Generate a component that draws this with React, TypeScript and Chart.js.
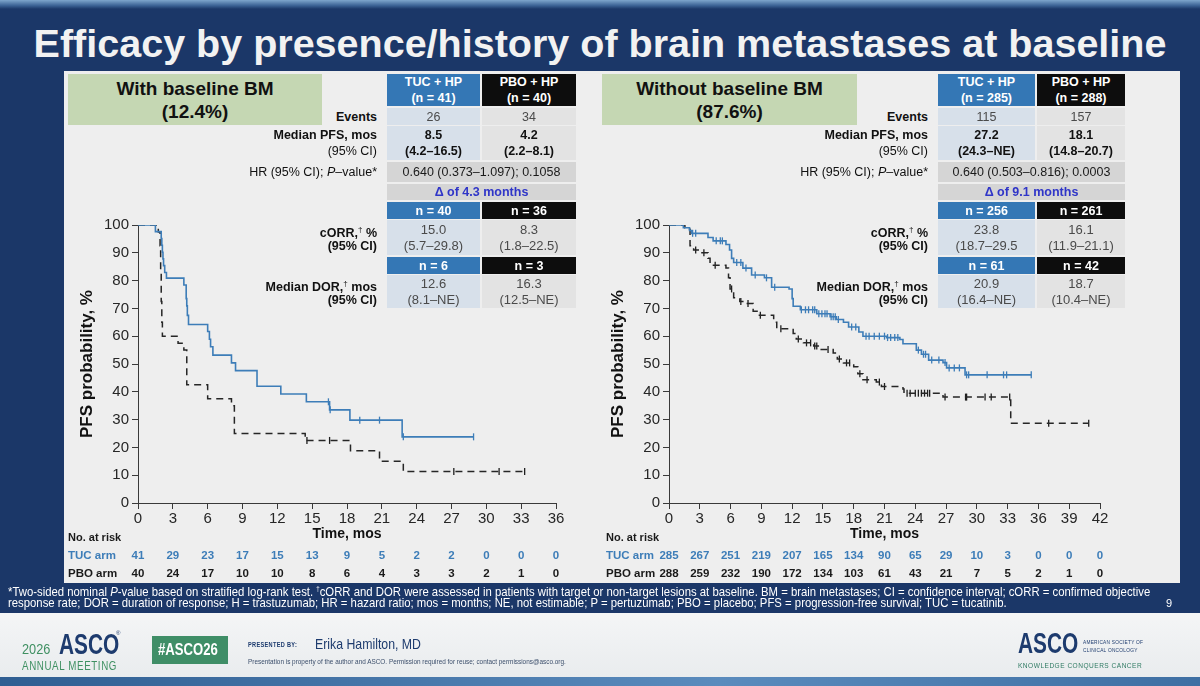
import React, { useEffect, useLayoutEffect, useRef } from "react";
import { Chart, registerables } from "chart.js";

Chart.register(...registerables);

const SANS = "'Liberation Sans', Arial, Helvetica, sans-serif";
const NARROW = "'Liberation Sans Narrow', 'Arial Narrow', 'Liberation Sans', sans-serif";

const NAVY = "#1b3768";
const PANEL = "#eeeeee";
const TUC_BLUE = "#3d7db8";
const HEAD_BLUE = "#3477b5";
const CELL_BLUE = "#d7e0ea";
const CELL_GRAY = "#e3e3e3";
const MERGED_GRAY = "#d5d5d5";
const GREEN_BOX = "#c5d7b3";

// ---------- Slide text ----------
const slideTitle = "Efficacy by presence/history of brain metastases at baseline";
const groupNames = ["With baseline BM", "Without baseline BM"];
const groupShares = ["(12.4%)", "(87.6%)"];
const tucN = ["41", "285"];
const pboN = ["40", "288"];
const events = [["26", "34"], ["115", "157"]];
const medianPfs = [["8.5", "4.2"], ["27.2", "18.1"]];
const medianPfsCi = [["(4.2–16.5)", "(2.2–8.1)"], ["(24.3–NE)", "(14.8–20.7)"]];
const hrValues = ["0.640 (0.373–1.097); 0.1058", "0.640 (0.503–0.816); 0.0003"];
const deltaMonths = ["Δ of 4.3 months", "Δ of 9.1 months"];
const orrN = [["40", "36"], ["256", "261"]];
const orrValues = [["15.0", "8.3"], ["23.8", "16.1"]];
const orrCi = [["(5.7–29.8)", "(1.8–22.5)"], ["(18.7–29.5", "(11.9–21.1)"]];
const dorN = [["6", "3"], ["61", "42"]];
const dorValues = [["12.6", "16.3"], ["20.9", "18.7"]];
const dorCi = [["(8.1–NE)", "(12.5–NE)"], ["(16.4–NE)", "(10.4–NE)"]];

const footnoteLines = [
  "*Two-sided nominal P-value based on stratified log-rank test. †cORR and DOR were assessed in patients with target or non-target lesions at baseline. BM = brain metastases; CI = confidence interval; cORR = confirmed objective",
  "response rate; DOR = duration of response; H = trastuzumab; HR = hazard ratio; mos = months;  NE, not estimable; P = pertuzumab; PBO = placebo; PFS = progression-free survival; TUC = tucatinib.",
];

// ---------- With baseline BM: Kaplan–Meier steps (months, PFS %) ----------
const bmTucTimes = [0, 1.5, 2.0, 2.05, 2.1, 2.15, 2.2, 2.3, 2.45, 3.95, 4.15, 4.2, 4.25, 4.35, 6.0, 6.15, 6.25, 6.45, 8.05, 8.4, 10.25, 12.3, 14.5, 16.5, 18.25, 22.75, 28.9];
const bmTucPfs = [100, 97.6, 95.1, 92.7, 90.2, 87.8, 85.4, 82.9, 80.9, 78.4, 73.5, 70.9, 67.5, 64.2, 61.7, 58.9, 56.2, 53.2, 50.4, 47.6, 42.0, 39.2, 36.4, 33.5, 29.8, 23.8, 23.8];
const bmTucCensored = [16.4, 16.55, 19.1, 20.8, 22.85, 28.9];

const bmPboTimes = [0, 1.75, 1.9, 1.95, 2.0, 2.05, 2.1, 3.45, 3.95, 4.2, 6.0, 8.05, 8.3, 14.4, 18.3, 20.8, 22.85, 33.3];
const bmPboPfs = [100, 97.5, 92.5, 82.5, 72.5, 65, 60, 57.5, 55, 42.5, 37.5, 35, 25, 22.5, 18.8, 15, 11.3, 11.3];
const bmPboCensored = [14.55, 16.5, 27.2, 31.1, 33.3];

// ---------- Without baseline BM ----------
const noBmTucTimes = [0, 1.4, 2.0, 2.2, 3.8, 4.3, 5.55, 5.9, 6.1, 6.3, 7.2, 8.05, 9.3, 10.0, 11.7, 12.0, 12.1, 12.8, 14.4, 15.7, 16.3, 17.0, 17.5, 18.5, 18.9, 21.2, 22.5, 22.8, 24.1, 24.6, 25.3, 26.7, 27.05, 28.85, 35.3];
const noBmTucPfs = [100, 99, 98, 97, 95.5, 94.3, 93, 91, 88, 86.5, 84.5, 82, 81, 77.6, 77, 73.5, 70.8, 69.5, 68.1, 67, 66, 65, 63.3, 61.5, 60, 59.5, 58.8, 57.3, 55, 53.5, 51.4, 50.5, 48.6, 46.1, 46.1];
const noBmTucCensored = [2.3, 2.6, 4.6, 5.0, 5.2, 6.6, 7.0, 7.5, 8.4, 9.5, 10.3, 12.9, 13.3, 13.6, 14.0, 14.2, 14.6, 14.9, 15.2, 15.4, 15.8, 16.0, 16.2, 16.5, 17.8, 18.2, 19.2, 19.5, 20.0, 20.5, 21.0, 21.3, 21.6, 22.0, 22.3, 24.3, 24.8, 25.0, 25.6, 26.3, 26.9, 27.3, 27.8, 28.3, 29.0, 29.2, 31.0, 32.6, 32.9, 35.3];

const noBmPboTimes = [0, 1.55, 1.9, 2.05, 2.4, 3.0, 3.8, 4.0, 5.55, 5.8, 5.95, 6.3, 6.9, 7.4, 8.2, 8.7, 10.2, 10.5, 12.1, 12.4, 13.1, 14.1, 14.55, 16.0, 16.4, 17.0, 18.0, 18.4, 18.9, 20.2, 20.7, 22.8, 22.9, 26.7, 33.3, 40.9];
const noBmPboPfs = [100, 99, 98.5, 92.5, 91, 90, 88, 85.5, 84.5, 81, 77, 73.8, 72.5, 71.8, 69, 67.5, 65, 62.7, 61, 59, 57.6, 56.5, 55.2, 54, 51.8, 50.4, 49, 46.5, 44.3, 43.5, 41.9, 41, 39.5, 38.1, 28.7, 28.7];
const noBmPboCensored = [2.6, 3.4, 4.5, 6.1, 7.0, 7.7, 8.9, 10.9, 12.6, 13.4, 13.8, 14.2, 14.4, 15.5, 16.6, 17.3, 17.6, 18.6, 19.3, 20.5, 21.0, 23.2, 23.5, 24.0, 24.3, 24.6, 24.9, 25.2, 25.4, 26.9, 28.9, 29.0, 30.8, 31.4, 33.2, 37.0, 40.9];

// ---------- Numbers at risk ----------
const bmRiskTimes = [0, 3, 6, 9, 12, 15, 18, 21, 24, 27, 30, 33, 36];
const bmRiskTuc = [41, 29, 23, 17, 15, 13, 9, 5, 2, 2, 0, 0, 0];
const bmRiskPbo = [40, 24, 17, 10, 10, 8, 6, 4, 3, 3, 2, 1, 0];
const noBmRiskTimes = [0, 3, 6, 9, 12, 15, 18, 21, 24, 27, 30, 33, 36, 39, 42];
const noBmRiskTuc = [285, 267, 251, 219, 207, 165, 134, 90, 65, 29, 10, 3, 0, 0, 0];
const noBmRiskPbo = [288, 259, 232, 190, 172, 134, 103, 61, 43, 21, 7, 5, 2, 1, 0];

type Pt = { x: number; y: number };

function stepPoints(times: number[], pfs: number[]): Pt[] {
  return times.map((t, i) => ({ x: t, y: pfs[i] }));
}

// PFS level of a step curve at time t (last step at or before t)
function levelAt(times: number[], pfs: number[], t: number): number {
  let v = pfs[0];
  for (let i = 0; i < times.length; i++) if (times[i] <= t) v = pfs[i];
  return v;
}

function censorPoints(times: number[], pfs: number[], cens: number[]): Pt[] {
  return cens.map((t) => ({ x: t, y: levelAt(times, pfs, t) }));
}

const atRiskPlugin = {
  id: "atRisk",
  afterDraw(chart: any, _args: any, opts: any) {
    const { ctx } = chart;
    const xs = chart.scales.x;
    ctx.save();
    ctx.textBaseline = "middle";
    ctx.textAlign = "left";
    ctx.font = `bold 11px ${SANS}`;
    ctx.fillStyle = "#1a1a1a";
    ctx.fillText("No. at risk", opts.labelX, opts.rowY[0]);
    ctx.font = `bold 11.5px ${SANS}`;
    ctx.fillStyle = TUC_BLUE;
    ctx.fillText("TUC arm", opts.labelX, opts.rowY[1]);
    ctx.fillStyle = "#1a1a1a";
    ctx.fillText("PBO arm", opts.labelX, opts.rowY[2]);
    ctx.textAlign = "center";
    opts.times.forEach((t: number, i: number) => {
      const px = xs.getPixelForValue(t);
      ctx.fillStyle = TUC_BLUE;
      ctx.fillText(String(opts.tuc[i]), px, opts.rowY[1]);
      ctx.fillStyle = "#1a1a1a";
      ctx.fillText(String(opts.pbo[i]), px, opts.rowY[2]);
    });
    ctx.restore();
  },
};

type KmProps = {
  left: number;
  top: number;
  width: number;
  height: number;
  xMax: number;
  yAxisWidth: number;
  padRight: number;
  yTitlePad: number;
  tuc: { times: number[]; pfs: number[]; cens: number[] };
  pbo: { times: number[]; pfs: number[]; cens: number[] };
  risk: { times: number[]; tuc: number[]; pbo: number[]; labelX: number };
};

function KmChart(p: KmProps) {
  const ref = useRef<HTMLCanvasElement>(null);
  useEffect(() => {
    const axisColor = "#3a3a3a";
    const tickFont = { family: SANS, size: 15 };
    const chart = new Chart(ref.current as HTMLCanvasElement, {
      type: "line",
      data: {
        datasets: [
          {
            data: stepPoints(p.tuc.times, p.tuc.pfs),
            borderColor: TUC_BLUE,
            borderWidth: 1.6,
            stepped: true,
            pointRadius: 0,
            fill: false,
          },
          {
            data: stepPoints(p.pbo.times, p.pbo.pfs),
            borderColor: "#262626",
            borderWidth: 1.5,
            borderDash: [7, 5],
            stepped: true,
            pointRadius: 0,
            fill: false,
          },
          {
            type: "scatter",
            data: censorPoints(p.tuc.times, p.tuc.pfs, p.tuc.cens),
            pointStyle: "line",
            rotation: 90,
            pointRadius: 3.5,
            borderColor: TUC_BLUE,
            borderWidth: 1.3,
          },
          {
            type: "scatter",
            data: censorPoints(p.pbo.times, p.pbo.pfs, p.pbo.cens),
            pointStyle: "line",
            rotation: 90,
            pointRadius: 3.5,
            borderColor: "#1f1f1f",
            borderWidth: 1.3,
          },
        ] as any,
      },
      options: {
        responsive: false,
        animation: false,
        events: [],
        layout: { padding: { left: 0, top: 15, right: p.padRight, bottom: 42 } },
        plugins: {
          legend: { display: false },
          tooltip: { enabled: false },
          atRisk: {
            times: p.risk.times,
            tuc: p.risk.tuc,
            pbo: p.risk.pbo,
            labelX: p.risk.labelX,
            rowY: [328, 346, 364],
          },
        } as any,
        scales: {
          x: {
            type: "linear",
            min: 0,
            max: p.xMax,
            ticks: { stepSize: 3, autoSkip: false, maxRotation: 0, font: tickFont, color: "#262626", padding: 1 },
            grid: { drawOnChartArea: false, drawTicks: true, tickLength: 6, color: axisColor },
            border: { display: true, color: axisColor, width: 1 },
            title: { display: true, text: "Time, mos", font: { family: SANS, size: 14, weight: "bold" }, color: "#111", padding: { top: 0, bottom: 0 } },
            afterFit: (s: any) => {
              s.height = 40;
            },
          },
          y: {
            type: "linear",
            min: 0,
            max: 100,
            ticks: { stepSize: 10, autoSkip: false, font: tickFont, color: "#262626", padding: 3 },
            grid: { drawOnChartArea: false, drawTicks: true, tickLength: 6, color: axisColor },
            border: { display: true, color: axisColor, width: 1 },
            title: { display: true, text: "PFS probability, %", font: { family: SANS, size: 17, weight: "bold" }, color: "#111", padding: { top: p.yTitlePad, bottom: 0 } },
            afterFit: (s: any) => {
              s.width = p.yAxisWidth;
            },
          },
        } as any,
      },
      plugins: [atRiskPlugin as any],
    });
    return () => chart.destroy();
  }, []);
  return (
    <canvas
      ref={ref}
      width={p.width}
      height={p.height}
      style={{ position: "absolute", left: p.left, top: p.top, width: p.width, height: p.height }}
    />
  );
}

function Abs({ x, y, w, h, style, children }: any) {
  return (
    <div style={{ position: "absolute", left: x, top: y, width: w, height: h, ...style }}>{children}</div>
  );
}

function Cell({ x, y, w, h, bg, color, bold, size, children }: any) {
  return (
    <Abs
      x={x}
      y={y}
      w={w}
      h={h}
      style={{
        background: bg,
        color: color || "#111",
        fontWeight: bold ? "bold" : "normal",
        fontSize: size || 12.5,
        lineHeight: "16px",
        display: "flex",
        flexDirection: "column",
        alignItems: "center",
        justifyContent: "center",
        textAlign: "center",
        whiteSpace: "nowrap",
      }}
    >
      {children}
    </Abs>
  );
}

function Label({ right, y, bold, children }: any) {
  return (
    <Abs
      x={right - 320}
      y={y - 9}
      w={320}
      h={18}
      style={{
        textAlign: "right",
        fontSize: 12.5,
        lineHeight: "18px",
        fontWeight: bold ? "bold" : "normal",
        color: "#111",
        whiteSpace: "nowrap",
      }}
    >
      {children}
    </Abs>
  );
}

// Horizontally condensed text block (anchored at its left edge)
function Squeeze({ x, y, k, style, children }: any) {
  return (
    <div
      style={{
        position: "absolute",
        left: x,
        top: y,
        whiteSpace: "nowrap",
        transform: `scaleX(${k})`,
        transformOrigin: "0 0",
        ...style,
      }}
    >
      {children}
    </div>
  );
}

const panelGeom = [
  { boxX: 68, boxW: 254, labelRight: 377, tucX: 387, tucW: 93, pboX: 482, pboW: 94 },
  { boxX: 602, boxW: 255, labelRight: 928, tucX: 938, tucW: 97, pboX: 1037, pboW: 88 },
];

function GroupTable({ i }: { i: number }) {
  const g = panelGeom[i];
  const mergedW = g.pboX + g.pboW - g.tucX;
  return (
    <>
      <Abs
        x={g.boxX}
        y={74}
        w={g.boxW}
        h={51}
        style={{
          background: GREEN_BOX,
          color: "#111",
          fontWeight: "bold",
          fontSize: 19,
          lineHeight: "23px",
          textAlign: "center",
          paddingTop: 3,
          boxSizing: "border-box",
        }}
      >
        <div>{groupNames[i]}</div>
        <div>{groupShares[i]}</div>
      </Abs>

      <Cell x={g.tucX} y={74} w={g.tucW} h={32} bg={HEAD_BLUE} color="#fff" bold>
        <div>TUC + HP</div>
        <div>(n = {tucN[i]})</div>
      </Cell>
      <Cell x={g.pboX} y={74} w={g.pboW} h={32} bg="#0d0d0d" color="#fff" bold>
        <div>PBO + HP</div>
        <div>(n = {pboN[i]})</div>
      </Cell>

      <Label right={g.labelRight} y={117} bold>Events</Label>
      <Cell x={g.tucX} y={108} w={g.tucW} h={17} bg={CELL_BLUE} color="#4a4a4a">{events[i][0]}</Cell>
      <Cell x={g.pboX} y={108} w={g.pboW} h={17} bg={CELL_GRAY} color="#4a4a4a">{events[i][1]}</Cell>

      <Label right={g.labelRight} y={135} bold>Median PFS, mos</Label>
      <Label right={g.labelRight} y={151}>(95% CI)</Label>
      <Cell x={g.tucX} y={126} w={g.tucW} h={34} bg={CELL_BLUE} bold>
        <div>{medianPfs[i][0]}</div>
        <div>{medianPfsCi[i][0]}</div>
      </Cell>
      <Cell x={g.pboX} y={126} w={g.pboW} h={34} bg={CELL_GRAY} bold>
        <div>{medianPfs[i][1]}</div>
        <div>{medianPfsCi[i][1]}</div>
      </Cell>

      <Label right={g.labelRight} y={172}>
        HR (95% CI); <i>P</i>–value*
      </Label>
      <Cell x={g.tucX} y={162} w={mergedW} h={20} bg={MERGED_GRAY} color="#1a1a1a">{hrValues[i]}</Cell>
      <Cell x={g.tucX} y={184} w={mergedW} h={16} bg={MERGED_GRAY} color="#2f35c8" bold>{deltaMonths[i]}</Cell>

      <Cell x={g.tucX} y={202} w={g.tucW} h={17} bg={HEAD_BLUE} color="#fff" bold>n = {orrN[i][0]}</Cell>
      <Cell x={g.pboX} y={202} w={g.pboW} h={17} bg="#0d0d0d" color="#fff" bold>n = {orrN[i][1]}</Cell>
      <Label right={g.labelRight} y={230} bold>
        cORR,<sup style={{ fontSize: 8, fontWeight: "normal" }}>†</sup> %
      </Label>
      <Label right={g.labelRight} y={246} bold>(95% CI)</Label>
      <Cell x={g.tucX} y={220} w={g.tucW} h={35} bg={CELL_BLUE} color="#4a4a4a" size={13}>
        <div>{orrValues[i][0]}</div>
        <div>{orrCi[i][0]}</div>
      </Cell>
      <Cell x={g.pboX} y={220} w={g.pboW} h={35} bg={CELL_GRAY} color="#4a4a4a" size={13}>
        <div>{orrValues[i][1]}</div>
        <div>{orrCi[i][1]}</div>
      </Cell>

      <Cell x={g.tucX} y={257} w={g.tucW} h={17} bg={HEAD_BLUE} color="#fff" bold>n = {dorN[i][0]}</Cell>
      <Cell x={g.pboX} y={257} w={g.pboW} h={17} bg="#0d0d0d" color="#fff" bold>n = {dorN[i][1]}</Cell>
      <Label right={g.labelRight} y={284} bold>
        Median DOR,<sup style={{ fontSize: 8, fontWeight: "normal" }}>†</sup> mos
      </Label>
      <Label right={g.labelRight} y={300} bold>(95% CI)</Label>
      <Cell x={g.tucX} y={275} w={g.tucW} h={33} bg={CELL_BLUE} color="#4a4a4a" size={13}>
        <div>{dorValues[i][0]}</div>
        <div>{dorCi[i][0]}</div>
      </Cell>
      <Cell x={g.pboX} y={275} w={g.pboW} h={33} bg={CELL_GRAY} color="#4a4a4a" size={13}>
        <div>{dorValues[i][1]}</div>
        <div>{dorCi[i][1]}</div>
      </Cell>
    </>
  );
}

function Footnotes() {
  const refs = useRef<(HTMLDivElement | null)[]>([]);
  useLayoutEffect(() => {
    const first = refs.current[0];
    if (!first) return;
    const k = 1142 / first.scrollWidth;
    refs.current.forEach((el) => {
      if (el) el.style.transform = `scaleX(${k})`;
    });
  }, []);
  const ys = [581, 595];
  return (
    <>
      {footnoteLines.map((line, i) => (
        <div
          key={i}
          ref={(el) => {
            refs.current[i] = el;
          }}
          style={{
            position: "absolute",
            left: 8,
            top: ys[i],
            whiteSpace: "nowrap",
            color: "#ffffff",
            fontFamily: NARROW,
            fontSize: 13,
            lineHeight: "15px",
            transformOrigin: "0 0",
          }}
        >
          {i === 0 ? (
            <>
              *Two-sided nominal <i>P</i>-value based on stratified log-rank test. <sup style={{ fontSize: 7 }}>†</sup>
              {line.slice(line.indexOf("†") + 1)}
            </>
          ) : (
            line
          )}
        </div>
      ))}
    </>
  );
}

function Footer() {
  return (
    <>
      <Abs x={0} y={613} w={1200} h={64} style={{ background: "linear-gradient(180deg, #f4f5f6 0%, #e9ecee 100%)" }} />
      <Abs x={0} y={677} w={1200} h={9} style={{ background: "linear-gradient(90deg, #2f5e92 0%, #5a8bbd 60%, #3e6fa3 100%)" }} />
      {/* meeting logo */}
      <Squeeze x={22} y={640} k={0.85} style={{ color: "#3f9062", fontSize: 15 }}>2026</Squeeze>
      <Squeeze x={59} y={628} k={0.72} style={{ color: "#1d3b6e", fontSize: 29, fontWeight: "bold", lineHeight: "32px" }}>ASCO</Squeeze>
      <Squeeze x={116} y={630} k={1} style={{ color: "#1d3b6e", fontSize: 6 }}>®</Squeeze>
      <Squeeze x={22} y={659} k={0.78} style={{ color: "#3f9062", fontSize: 12.5, letterSpacing: 0.8 }}>ANNUAL MEETING</Squeeze>
      <Abs x={152} y={636} w={76} h={28} style={{ background: "#3f8e67" }} />
      <Squeeze x={158} y={641} k={0.82} style={{ color: "#fff", fontWeight: "bold", fontSize: 16, lineHeight: "18px" }}>#ASCO26</Squeeze>
      <Squeeze x={248} y={641} k={0.8} style={{ color: "#1d3b6e", fontSize: 7, fontWeight: "bold", letterSpacing: 0.4 }}>PRESENTED BY:</Squeeze>
      <Squeeze x={315} y={635} k={0.82} style={{ color: "#1d3b6e", fontSize: 15 }}>Erika Hamilton, MD</Squeeze>
      <Squeeze x={248} y={657} k={0.8} style={{ color: "#3b4e6b", fontSize: 8 }}>
        Presentation is property of the author and ASCO. Permission required for reuse; contact permissions@asco.org.
      </Squeeze>
      {/* society logo */}
      <Squeeze x={1018} y={627} k={0.72} style={{ color: "#1d3b6e", fontSize: 29, fontWeight: "bold", lineHeight: "32px" }}>ASCO</Squeeze>
      <Squeeze x={1083} y={638} k={0.8} style={{ color: "#1d3b6e", fontSize: 6, lineHeight: "8px", letterSpacing: 0.3 }}>
        <div>AMERICAN SOCIETY OF</div>
        <div>CLINICAL ONCOLOGY</div>
      </Squeeze>
      <Squeeze x={1018} y={661} k={0.82} style={{ color: "#2e7a62", fontSize: 8, letterSpacing: 0.6 }}>KNOWLEDGE CONQUERS CANCER</Squeeze>
      <Abs x={1166} y={597} w={16} h={14} style={{ color: "#fff", fontSize: 11, fontFamily: NARROW }}>
        9
      </Abs>
    </>
  );
}

export default function App() {
  return (
    <div
      style={{
        position: "fixed",
        left: 0,
        top: 0,
        width: 1200,
        height: 686,
        overflow: "hidden",
        background: NAVY,
        fontFamily: SANS,
      }}
    >
      <Abs x={0} y={0} w={1200} h={9} style={{ background: "linear-gradient(180deg, #7ea6cc 0%, #3d6496 60%, #1b3768 100%)" }} />
      <Abs
        x={0}
        y={18}
        w={1200}
        h={50}
        style={{ color: "#f2f2f2", fontWeight: "bold", fontSize: 39.5, lineHeight: "50px", textAlign: "center", whiteSpace: "nowrap" }}
      >
        {slideTitle}
      </Abs>

      <Abs x={64} y={71} w={1116} h={512} style={{ background: PANEL }} />

      <KmChart
        left={60}
        top={210}
        width={520}
        height={375}
        xMax={36}
        yAxisWidth={78}
        padRight={24}
        yTitlePad={17}
        tuc={{ times: bmTucTimes, pfs: bmTucPfs, cens: bmTucCensored }}
        pbo={{ times: bmPboTimes, pfs: bmPboPfs, cens: bmPboCensored }}
        risk={{ times: bmRiskTimes, tuc: bmRiskTuc, pbo: bmRiskPbo, labelX: 8 }}
      />
      <KmChart
        left={600}
        top={210}
        width={520}
        height={375}
        xMax={42}
        yAxisWidth={69}
        padRight={20}
        yTitlePad={8}
        tuc={{ times: noBmTucTimes, pfs: noBmTucPfs, cens: noBmTucCensored }}
        pbo={{ times: noBmPboTimes, pfs: noBmPboPfs, cens: noBmPboCensored }}
        risk={{ times: noBmRiskTimes, tuc: noBmRiskTuc, pbo: noBmRiskPbo, labelX: 6 }}
      />

      <GroupTable i={0} />
      <GroupTable i={1} />

      <Footnotes />
      <Footer />
    </div>
  );
}
